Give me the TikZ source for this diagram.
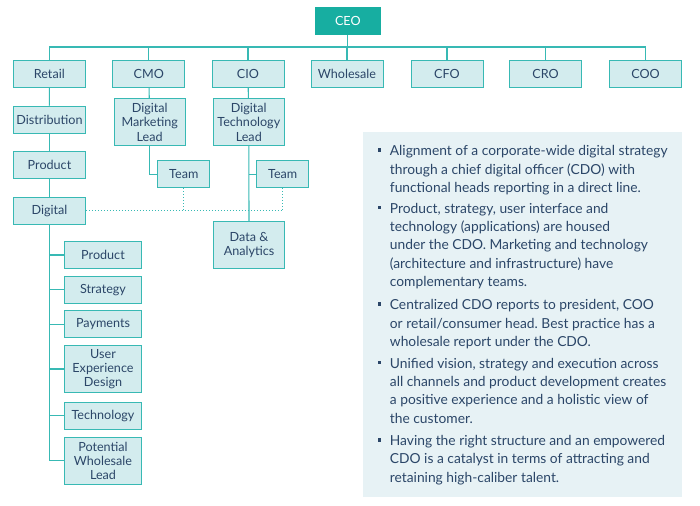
\documentclass[tikz,border=0pt]{standalone}
\usepackage{fontspec}
\setmainfont{Lato}
\frenchspacing
\definecolor{tealline}{HTML}{38B9B4}
\definecolor{boxfill}{HTML}{D3ECEE}
\definecolor{ceofill}{HTML}{17AEA1}
\definecolor{navy}{HTML}{2B4668}
\definecolor{panel}{HTML}{E7F2F5}
\begin{document}
\begin{tikzpicture}[x=1pt,y=-1pt,
  box/.style={draw=tealline, fill=boxfill, line width=0.9pt, minimum width=72pt, minimum height=27pt,
    inner sep=1pt, text=navy, align=center, font=\fontsize{12.6}{14.3}\selectfont},
  tall/.style={box, minimum height=46.7pt},
  sub/.style={box, minimum width=77.4pt},
  teamb/.style={box, minimum width=52pt},
  link/.style={draw=tealline, line width=1.1pt},
  dots/.style={draw=tealline, line width=1pt, dotted},
  txt/.style={anchor=base west, inner sep=0pt, text=navy, font=\fontsize{13.8}{18.3}\selectfont},
  bullet/.style={fill=navy}]
\useasboundingbox (0,0) rectangle (700,505);

% top row
\node[box, fill=ceofill, draw=ceofill, text=white, minimum width=65pt, minimum height=27.5pt] (ceo) at (347.8,21) {CEO};
\node[box] (retail) at (49.3,74.2) {Retail};
\node[box] (cmo) at (148.8,74.2) {CMO};
\node[box] (cio) at (248,74.2) {CIO};
\node[box] (wholesale) at (347,74.2) {Wholesale};
\node[box] (cfo) at (447,74.2) {CFO};
\node[box] (cro) at (545.5,74.2) {CRO};
\node[box] (coo) at (645.5,74.2) {COO};

\coordinate (busL) at (49.3,47);
\coordinate (busR) at (645.5,47);
\draw[link] (busL) -- (busR);
\draw[link] (ceo.south) -- (ceo.south |- busL);
\foreach \n in {retail,cmo,cio,wholesale,cfo,cro,coo}
  \draw[link] (\n.north) -- (\n.north |- busL);

% retail column
\node[box] (dist) at (49.5,119.7) {Distribution};
\node[box] (prod) at (49.5,165.3) {Product};
\node[box] (digital) at (49.5,210.8) {Digital};
\draw[link] (retail) -- (dist);
\draw[link] (dist) -- (prod);
\draw[link] (prod) -- (digital);

% CMO column
\node[tall, minimum width=71.3pt] (dml) at (149.7,122.3) {Digital\\Marketing\\Lead};
\node[teamb] (team1) at (183.8,174.2) {Team};
\draw[link] (cmo) -- (dml);
\draw[link] (dml.south) -- (dml.south |- team1.west) -- (team1.west);

% CIO column
\node[tall, minimum width=71.3pt] (dtl) at (248.8,122.3) {Digital\\Technology\\Lead};
\node[teamb] (team2) at (282.7,174.2) {Team};
\node[tall, minimum width=71.4pt] (da) at (249,245) {Data \&\\Analytics};
\draw[link] (cio) -- (dtl);
\draw[link] (dtl.south) -- (da.north);
\draw[link] (dtl.south |- team2.west) -- (team2.west);

% dotted relations
\draw[dots] (digital.east) -- (team2.south |- digital.east);
\draw[dots] (team1.south) -- (team1.south |- digital.east);
\draw[dots] (team2.south) -- (team2.south |- digital.east);

% digital children
\node[sub] (dp) at (103,255) {Product};
\node[sub] (ds) at (103,289.8) {Strategy};
\node[sub] (dpay) at (103,324.2) {Payments};
\node[sub, minimum height=47pt] (dux) at (103,369) {User\\Experience\\Design};
\node[sub] (dtech) at (103,415.8) {Technology};
\node[sub, minimum height=47pt] (dpw) at (103,460.8) {Potential\\Wholesale\\Lead};
\draw[link] (digital.south) -- (digital.south |- dpw.west);
\foreach \n in {dp,ds,dpay,dux,dtech,dpw}
  \draw[link] (digital.south |- \n.west) -- (\n.west);

% text panel
\fill[panel] (363.3,132.3) rectangle (681.7,496.7);
\foreach \i/\y/\t in {
  1/151/{Alignment of a corporate-wide digital strategy},
  2/169.3/{through a chief digital officer (CDO) with},
  3/187.7/{functional heads reporting in a direct line.},
  4/208.3/{Product, strategy, user interface and},
  5/226.7/{technology (applications) are housed},
  6/245/{under the CDO. Marketing and technology},
  7/263.3/{(architecture and infrastructure) have},
  8/281.7/{complementary teams.},
  9/305/{Centralized CDO reports to president, COO},
  10/323.3/{or retail/consumer head. Best practice has a},
  11/341.7/{wholesale report under the CDO.},
  12/363.3/{Unified vision, strategy and execution across},
  13/381.7/{all channels and product development creates},
  14/400/{a positive experience and a holistic view of},
  15/418.3/{the customer.},
  16/440.7/{Having the right structure and an empowered},
  17/459/{CDO is a catalyst in terms of attracting and},
  18/477.3/{retaining high-caliber talent.}}
  \node[txt] (l\i) at (389.7,\y+4.8) {\t};
\foreach \y in {150,207.3,304,362.3,439.7}
  \fill[bullet] (377.5,\y-1.8) rectangle ++(3.6,3.6);
\end{tikzpicture}
\end{document}
